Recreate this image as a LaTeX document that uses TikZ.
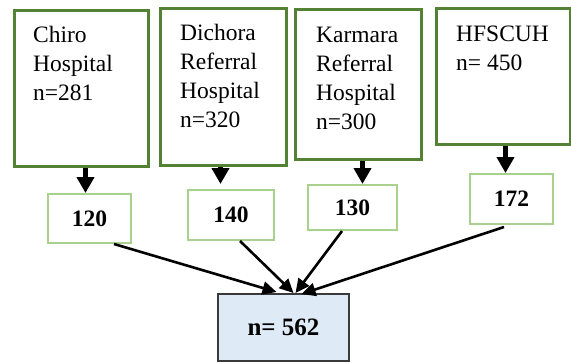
\documentclass[tikz,border=0pt]{standalone}
\usepackage{fontspec}
\setmainfont{Liberation Serif}
\usetikzlibrary{arrows.meta}
\definecolor{darkgreen}{HTML}{548235}
\definecolor{lightgreen}{HTML}{A9D18E}
\definecolor{paleblue}{HTML}{DEEBF7}
\definecolor{boxgray}{HTML}{3A3A3A}
\begin{document}
\begin{tikzpicture}[x=1pt,y=-1pt,
  bigbox/.style={draw=darkgreen,line width=3pt,anchor=north west,inner sep=0pt},
  boxtext/.style={anchor=north west,inner sep=0pt,align=left,font=\fontsize{23.5}{29}\selectfont},
  smallbox/.style={draw=lightgreen,line width=2pt,anchor=north west,inner sep=0pt,font=\fontsize{23.5}{28}\selectfont\bfseries},
  totalbox/.style={draw=boxgray,fill=paleblue,line width=2pt,anchor=north west,inner sep=0pt,font=\fontsize{25}{29}\selectfont\bfseries},
  varrow/.style={line width=5pt,-{Triangle[length=16pt,width=17pt]}},
  darrow/.style={line width=2.6pt,-{Triangle[length=14pt,width=13pt]}}]
\useasboundingbox (0,0) rectangle (571,362);
% big boxes
\node[bigbox,minimum width=134pt,minimum height=156pt] (b1) at (13,9) {};
\node[bigbox,minimum width=126pt,minimum height=157pt] (b2) at (159,7) {};
\node[bigbox,minimum width=126pt,minimum height=150pt] (b3) at (294,8) {};
\node[bigbox,minimum width=134pt,minimum height=136pt] (b4) at (435,7) {};
\node[boxtext] (t1) at ([xshift=20pt,yshift=-13.2pt]b1.north west) {\strut Chiro\\Hospital\\n=281};
\node[boxtext] (t2) at ([xshift=21pt,yshift=-13.2pt]b2.north west) {\strut Dichora\\Referral\\Hospital\\n=320};
\node[boxtext] (t3) at ([xshift=22pt,yshift=-13.7pt]b3.north west) {\strut Karmara\\Referral\\Hospital\\n=300};
\node[boxtext] (t4) at ([xshift=21pt,yshift=-13.7pt]b4.north west) {\strut HFSCUH\\n= 450};
% small boxes
\node[smallbox,minimum width=83pt,minimum height=49pt] (s1) at (47,193) {120};
\node[smallbox,minimum width=86pt,minimum height=50pt] (s2) at (187,189) {140};
\node[smallbox,minimum width=89pt,minimum height=45pt] (s3) at (307,184) {130};
\node[smallbox,minimum width=83pt,minimum height=50pt] (s4) at (469,173) {172};
% total
\node[totalbox,minimum width=131pt,minimum height=67pt] (tot) at (217,293) {n= 562};
% vertical arrows
\draw[varrow] ([xshift=4pt]b1.south) -- ([xshift=4pt]b1.south |- s1.north);
\draw[varrow,shorten >=5pt] ([xshift=-3pt]b2.south) -- ([xshift=-3pt]b2.south |- s2.north);
\draw[varrow] ([xshift=4pt]b3.south) -- ([xshift=4pt]b3.south |- s3.north);
\draw[varrow] ([xshift=2pt]b4.south) -- ([xshift=2pt]b4.south |- s4.north);
% diagonal arrows
\draw[darrow] ([xshift=24.5pt]s1.south) -- ([xshift=-7pt,yshift=1pt]tot.north);
\draw[darrow] ([xshift=9pt]s2.south) -- ([xshift=10pt]tot.north);
\draw[darrow] ([xshift=-10.5pt]s3.south) -- ([xshift=12pt]tot.north);
\draw[darrow] ([xshift=-7.5pt,yshift=-2pt]s4.south) -- ([xshift=18pt,yshift=-1pt]tot.north);
\end{tikzpicture}
\end{document}
